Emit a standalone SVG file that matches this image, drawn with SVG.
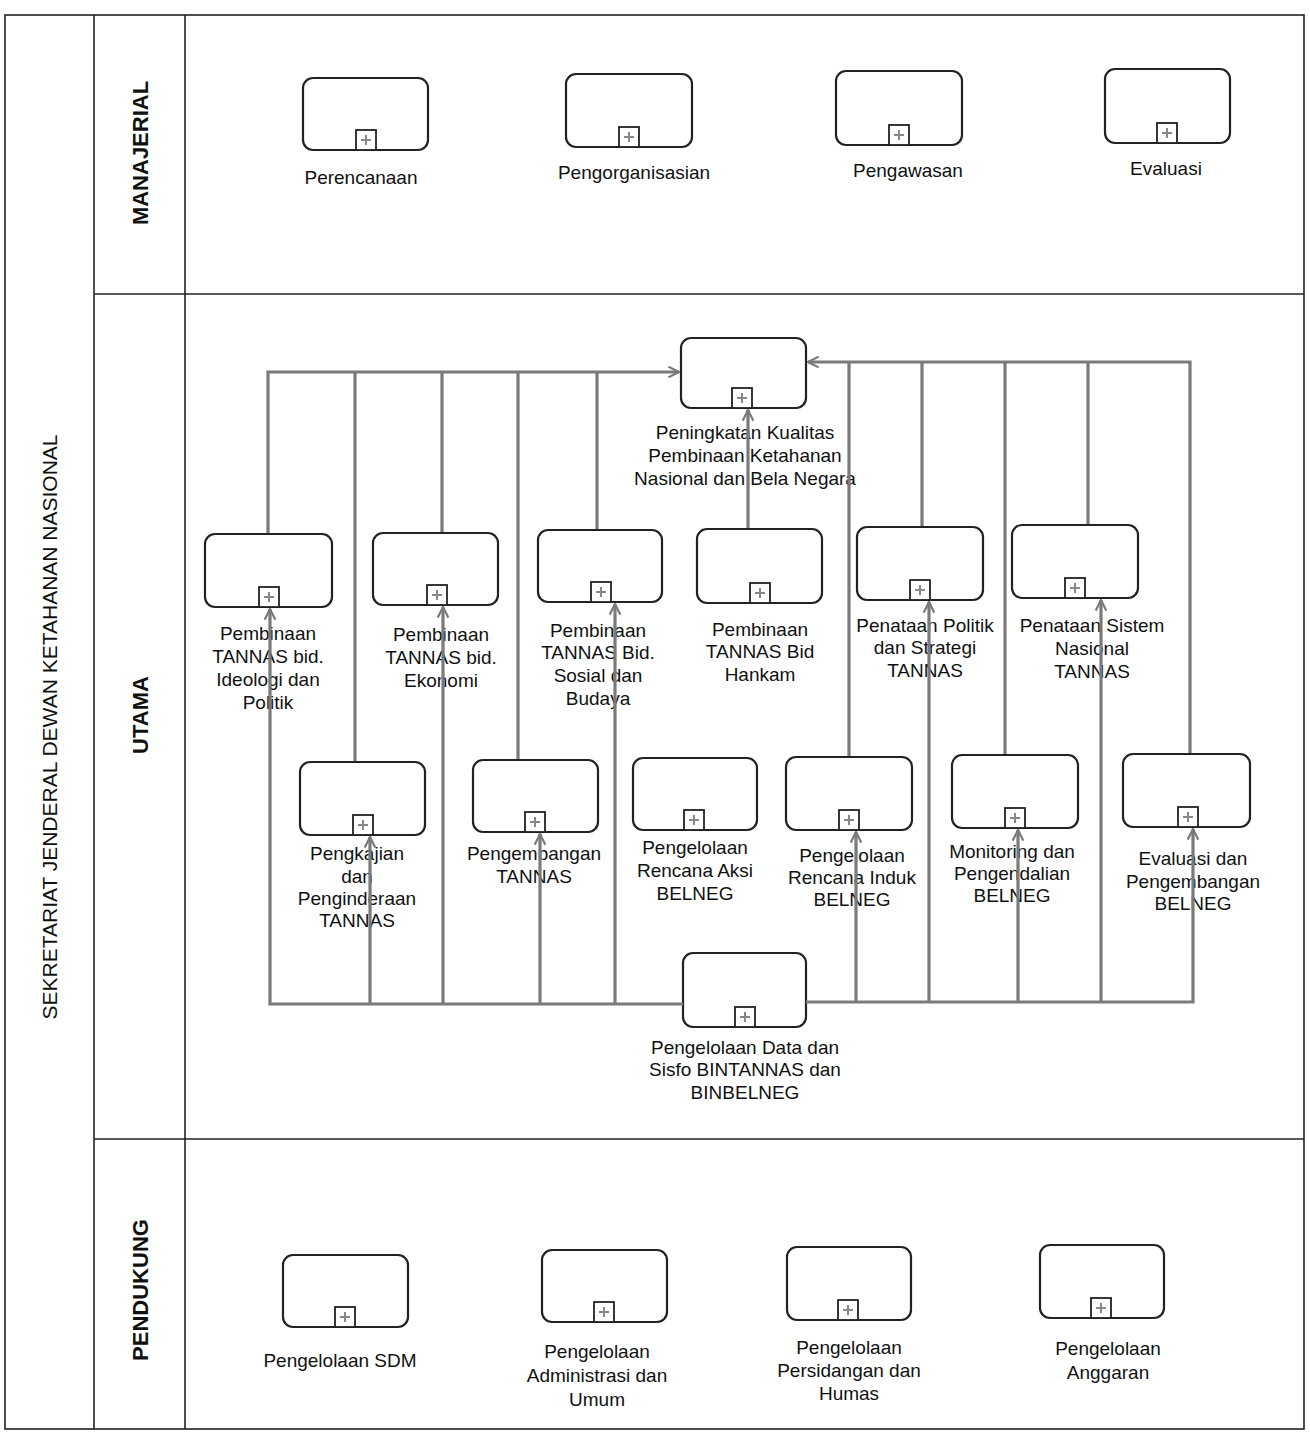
<svg xmlns="http://www.w3.org/2000/svg" width="1310" height="1434" viewBox="0 0 1310 1434">
<style>
.frame{fill:none;stroke:#222;stroke-width:1.6}
.box{fill:#fff;stroke:#222;stroke-width:2.2}
.pbox{fill:#fff;stroke:#222;stroke-width:1.8}
.pm{stroke:#888;stroke-width:2}
.lbl{font-family:"Liberation Sans",Arial,sans-serif;font-size:19px;fill:#111;text-anchor:middle}
.lane{font-family:"Liberation Sans",Arial,sans-serif;font-size:22px;font-weight:bold;fill:#111;text-anchor:middle}
.pool{font-family:"Liberation Sans",Arial,sans-serif;font-size:21px;fill:#111;text-anchor:middle}
.con{fill:none;stroke:#7a7a7a;stroke-width:3.2}
</style>
<defs>
<marker id="arr" viewBox="0 0 12 12" refX="11" refY="6" markerWidth="4" markerHeight="4" orient="auto" markerUnits="strokeWidth">
<path d="M1,1 L11,6 L1,11" fill="none" stroke="#7a7a7a" stroke-width="2"/>
</marker>
<g id="plus"><rect class="pbox" x="-10" y="-20" width="20" height="20"/><path class="pm" d="M-5,-10 H5 M0,-15 V-5"/></g>
</defs>
<rect width="1310" height="1434" fill="#fff"/>
<g id="pool">
<rect class="frame" x="5" y="15" width="1299" height="1414"/>
<line class="frame" x1="94" y1="15" x2="94" y2="1429"/>
<line class="frame" x1="185" y1="15" x2="185" y2="1429"/>
<line class="frame" x1="94" y1="294" x2="1304" y2="294"/>
<line class="frame" x1="94" y1="1139" x2="1304" y2="1139"/>
<text class="pool" transform="translate(57,727) rotate(-90)">SEKRETARIAT JENDERAL DEWAN KETAHANAN NASIONAL</text>
<text class="lane" transform="translate(148,153) rotate(-90)">MANAJERIAL</text>
<text class="lane" transform="translate(148,715) rotate(-90)">UTAMA</text>
<text class="lane" transform="translate(148,1290) rotate(-90)">PENDUKUNG</text>
</g>
<g id="n-perencanaan"><rect class="box" x="303" y="78" width="125" height="72" rx="10"/><use href="#plus" x="366" y="150"/><text class="lbl" x="361" y="184">Perencanaan</text></g>
<g id="n-pengorganisasian"><rect class="box" x="566" y="74" width="126" height="73" rx="10"/><use href="#plus" x="629" y="147"/><text class="lbl" x="634" y="179">Pengorganisasian</text></g>
<g id="n-pengawasan"><rect class="box" x="836" y="71" width="126" height="74" rx="10"/><use href="#plus" x="899" y="145"/><text class="lbl" x="908" y="177">Pengawasan</text></g>
<g id="n-evaluasi"><rect class="box" x="1105" y="69" width="125" height="74" rx="10"/><use href="#plus" x="1167" y="143"/><text class="lbl" x="1166" y="175">Evaluasi</text></g>

<g id="n-peningkatan"><rect class="box" x="681" y="338" width="125" height="70" rx="10"/><use href="#plus" x="742" y="408"/><text class="lbl" x="745"><tspan x="745" y="439">Peningkatan Kualitas</tspan><tspan x="745" y="462">Pembinaan Ketahanan</tspan><tspan x="745" y="485">Nasional dan Bela Negara</tspan></text></g>
<g id="n-ideologi"><rect class="box" x="205" y="534" width="127" height="73" rx="10"/><use href="#plus" x="269" y="607"/><text class="lbl"><tspan x="268" y="640">Pembinaan</tspan><tspan x="268" y="663">TANNAS bid.</tspan><tspan x="268" y="686">Ideologi dan</tspan><tspan x="268" y="709">Politik</tspan></text></g>
<g id="n-ekonomi"><rect class="box" x="373" y="533" width="125" height="72" rx="10"/><use href="#plus" x="437" y="605"/><text class="lbl"><tspan x="441" y="641">Pembinaan</tspan><tspan x="441" y="664">TANNAS bid.</tspan><tspan x="441" y="687">Ekonomi</tspan></text></g>
<g id="n-sosial"><rect class="box" x="538" y="530" width="124" height="72" rx="10"/><use href="#plus" x="601" y="602"/><text class="lbl"><tspan x="598" y="637">Pembinaan</tspan><tspan x="598" y="659">TANNAS Bid.</tspan><tspan x="598" y="682">Sosial dan</tspan><tspan x="598" y="705">Budaya</tspan></text></g>
<g id="n-hankam"><rect class="box" x="697" y="529" width="125" height="74" rx="10"/><use href="#plus" x="760" y="603"/><text class="lbl"><tspan x="760" y="636">Pembinaan</tspan><tspan x="760" y="658">TANNAS Bid</tspan><tspan x="760" y="681">Hankam</tspan></text></g>
<g id="n-politik"><rect class="box" x="857" y="527" width="126" height="73" rx="10"/><use href="#plus" x="920" y="600"/><text class="lbl"><tspan x="925" y="632">Penataan Politik</tspan><tspan x="925" y="654">dan Strategi</tspan><tspan x="925" y="677">TANNAS</tspan></text></g>
<g id="n-sistem"><rect class="box" x="1012" y="525" width="126" height="73" rx="10"/><use href="#plus" x="1075" y="598"/><text class="lbl"><tspan x="1092" y="632">Penataan Sistem</tspan><tspan x="1092" y="655">Nasional</tspan><tspan x="1092" y="678">TANNAS</tspan></text></g>

<g id="n-pengkajian"><rect class="box" x="300" y="762" width="125" height="73" rx="10"/><use href="#plus" x="363" y="835"/><text class="lbl"><tspan x="357" y="860">Pengkajian</tspan><tspan x="357" y="883">dan</tspan><tspan x="357" y="905">Penginderaan</tspan><tspan x="357" y="927">TANNAS</tspan></text></g>
<g id="n-pengembangan"><rect class="box" x="473" y="760" width="125" height="72" rx="10"/><use href="#plus" x="535" y="832"/><text class="lbl"><tspan x="534" y="860">Pengembangan</tspan><tspan x="534" y="883">TANNAS</tspan></text></g>
<g id="n-aksi"><rect class="box" x="633" y="758" width="124" height="72" rx="10"/><use href="#plus" x="694" y="830"/><text class="lbl"><tspan x="695" y="854">Pengelolaan</tspan><tspan x="695" y="877">Rencana Aksi</tspan><tspan x="695" y="900">BELNEG</tspan></text></g>
<g id="n-induk"><rect class="box" x="786" y="757" width="126" height="73" rx="10"/><use href="#plus" x="849" y="830"/><text class="lbl"><tspan x="852" y="862">Pengelolaan</tspan><tspan x="852" y="884">Rencana Induk</tspan><tspan x="852" y="906">BELNEG</tspan></text></g>
<g id="n-monitoring"><rect class="box" x="952" y="755" width="126" height="73" rx="10"/><use href="#plus" x="1015" y="828"/><text class="lbl"><tspan x="1012" y="858">Monitoring dan</tspan><tspan x="1012" y="880">Pengendalian</tspan><tspan x="1012" y="902">BELNEG</tspan></text></g>
<g id="n-evalbel"><rect class="box" x="1123" y="754" width="127" height="73" rx="10"/><use href="#plus" x="1188" y="827"/><text class="lbl"><tspan x="1193" y="865">Evaluasi dan</tspan><tspan x="1193" y="888">Pengembangan</tspan><tspan x="1193" y="910">BELNEG</tspan></text></g>

<g id="n-data"><rect class="box" x="683" y="953" width="123" height="74" rx="10"/><use href="#plus" x="745" y="1027"/><text class="lbl"><tspan x="745" y="1054">Pengelolaan Data dan</tspan><tspan x="745" y="1076">Sisfo BINTANNAS dan</tspan><tspan x="745" y="1099">BINBELNEG</tspan></text></g>

<g id="n-sdm"><rect class="box" x="283" y="1255" width="125" height="72" rx="10"/><use href="#plus" x="345" y="1327"/><text class="lbl" x="340" y="1367">Pengelolaan SDM</text></g>
<g id="n-admin"><rect class="box" x="542" y="1250" width="125" height="72" rx="10"/><use href="#plus" x="604" y="1322"/><text class="lbl"><tspan x="597" y="1358">Pengelolaan</tspan><tspan x="597" y="1382">Administrasi dan</tspan><tspan x="597" y="1406">Umum</tspan></text></g>
<g id="n-sidang"><rect class="box" x="787" y="1247" width="124" height="73" rx="10"/><use href="#plus" x="848" y="1320"/><text class="lbl"><tspan x="849" y="1354">Pengelolaan</tspan><tspan x="849" y="1377">Persidangan dan</tspan><tspan x="849" y="1400">Humas</tspan></text></g>
<g id="n-anggaran"><rect class="box" x="1040" y="1245" width="124" height="73" rx="10"/><use href="#plus" x="1101" y="1318"/><text class="lbl"><tspan x="1108" y="1355">Pengelolaan</tspan><tspan x="1108" y="1379">Anggaran</tspan></text></g>

<g id="connectors">
<path class="con" d="M268,533 V372 H679" marker-end="url(#arr)"/>
<path class="con" d="M355,761 V372"/>
<path class="con" d="M442,532 V372"/>
<path class="con" d="M518,759 V372"/>
<path class="con" d="M597,529 V372"/>
<path class="con" d="M1190,753 V362 H808" marker-end="url(#arr)"/>
<path class="con" d="M849,756 V362"/>
<path class="con" d="M922,526 V362"/>
<path class="con" d="M1005,754 V362"/>
<path class="con" d="M1088,524 V362"/>
<path class="con" d="M748,528 V410" marker-end="url(#arr)"/>
<path class="con" d="M683,1004 H270 V609" marker-end="url(#arr)"/>
<path class="con" d="M370,1004 V837" marker-end="url(#arr)"/>
<path class="con" d="M443,1004 V607" marker-end="url(#arr)"/>
<path class="con" d="M540,1004 V834" marker-end="url(#arr)"/>
<path class="con" d="M615,1004 V604" marker-end="url(#arr)"/>
<path class="con" d="M806,1002 H1193 V829" marker-end="url(#arr)"/>
<path class="con" d="M856,1002 V832" marker-end="url(#arr)"/>
<path class="con" d="M929,1002 V602" marker-end="url(#arr)"/>
<path class="con" d="M1018,1002 V830" marker-end="url(#arr)"/>
<path class="con" d="M1101,1002 V600" marker-end="url(#arr)"/>
</g>
</svg>
